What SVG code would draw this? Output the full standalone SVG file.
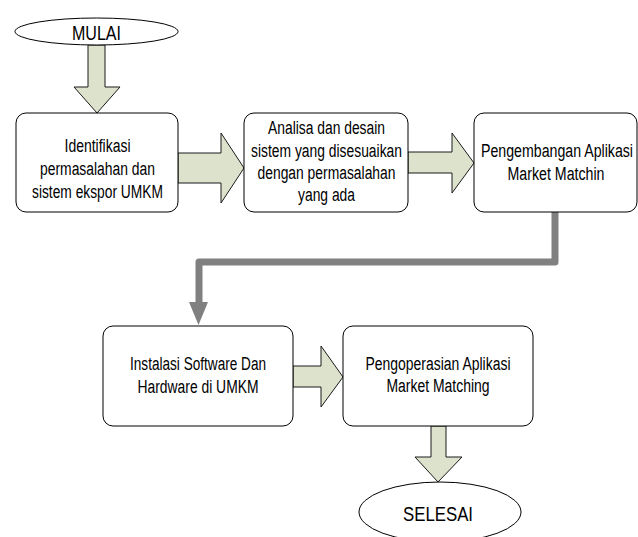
<svg xmlns="http://www.w3.org/2000/svg" width="638" height="537" viewBox="0 0 638 537">
<style>
.box{fill:#fff;stroke:#000;stroke-width:1}
.term{fill:#fff;stroke:#000;stroke-width:1}
.blk{fill:#dce2cc;stroke:#1a1a1a;stroke-width:1;stroke-linejoin:miter}
.t{font-family:"Liberation Sans",Arial,sans-serif;font-size:18px;fill:#000;text-anchor:middle}
.tt{font-family:"Liberation Sans",Arial,sans-serif;font-size:21px;fill:#000;text-anchor:middle}
.conn{fill:none;stroke:#808080;stroke-width:7;stroke-linejoin:round}
</style>
<rect width="638" height="537" fill="#fff"/>
<g id="connectors">
<polygon class="blk" points="88,45 105,45 105,87 120,87 97,113 74,87 88,87"/>
<polygon class="blk" points="178,153 221,153 221,133 244,168 221,203 221,183 178,183"/>
<polygon class="blk" points="408,152 452,152 452,133 474,163 452,193 452,173 408,173"/>
<polyline class="conn" points="555,212 555,262 199,262 199,303"/>
<polygon points="189,302 208,302 198.5,325" fill="#808080"/>
<polygon class="blk" points="293,366 321,366 321,346 343,377 321,407 321,387 293,387"/>
<polygon class="blk" points="431,426 446,426 446,457 462,457 438,482 415,457 431,457"/>
</g>
<g id="mulai">
<ellipse class="term" cx="96.5" cy="31.5" rx="81.5" ry="13.5"/>
<text class="tt" x="96.5" y="39.5" textLength="49" lengthAdjust="spacingAndGlyphs">MULAI</text>
</g>
<g id="identifikasi">
<rect class="box" x="16" y="113" width="162" height="99" rx="10"/>
<text class="t" x="97.5" y="152" textLength="66" lengthAdjust="spacingAndGlyphs">Identifikasi</text>
<text class="t" x="97.5" y="175" textLength="115" lengthAdjust="spacingAndGlyphs">permasalahan dan</text>
<text class="t" x="97.5" y="198" textLength="131" lengthAdjust="spacingAndGlyphs">sistem ekspor UMKM</text>
</g>
<g id="analisa">
<rect class="box" x="244" y="113" width="164" height="99" rx="10"/>
<text class="t" x="326.5" y="134" textLength="117" lengthAdjust="spacingAndGlyphs">Analisa dan desain</text>
<text class="t" x="326.5" y="157" textLength="151" lengthAdjust="spacingAndGlyphs">sistem yang disesuaikan</text>
<text class="t" x="326.5" y="179" textLength="138" lengthAdjust="spacingAndGlyphs">dengan permasalahan</text>
<text class="t" x="326.5" y="201" textLength="57" lengthAdjust="spacingAndGlyphs">yang ada</text>
</g>
<g id="pengembangan">
<rect class="box" x="474" y="113" width="163" height="99" rx="10"/>
<text class="t" x="557" y="157" textLength="152" lengthAdjust="spacingAndGlyphs">Pengembangan Aplikasi</text>
<text class="t" x="556" y="180" textLength="97" lengthAdjust="spacingAndGlyphs">Market Matchin</text>
</g>
<g id="instalasi">
<rect class="box" x="103" y="326" width="190" height="100" rx="10"/>
<text class="t" x="198" y="370" textLength="136" lengthAdjust="spacingAndGlyphs">Instalasi Software Dan</text>
<text class="t" x="198" y="393" textLength="121" lengthAdjust="spacingAndGlyphs">Hardware di UMKM</text>
</g>
<g id="pengoperasian">
<rect class="box" x="343" y="326" width="190" height="100" rx="10"/>
<text class="t" x="438" y="370" textLength="145" lengthAdjust="spacingAndGlyphs">Pengoperasian Aplikasi</text>
<text class="t" x="438" y="392" textLength="103" lengthAdjust="spacingAndGlyphs">Market Matching</text>
</g>
<g id="selesai">
<ellipse class="term" cx="440" cy="512" rx="81" ry="30"/>
<text class="tt" x="438" y="521" textLength="70" lengthAdjust="spacingAndGlyphs">SELESAI</text>
</g>
</svg>
